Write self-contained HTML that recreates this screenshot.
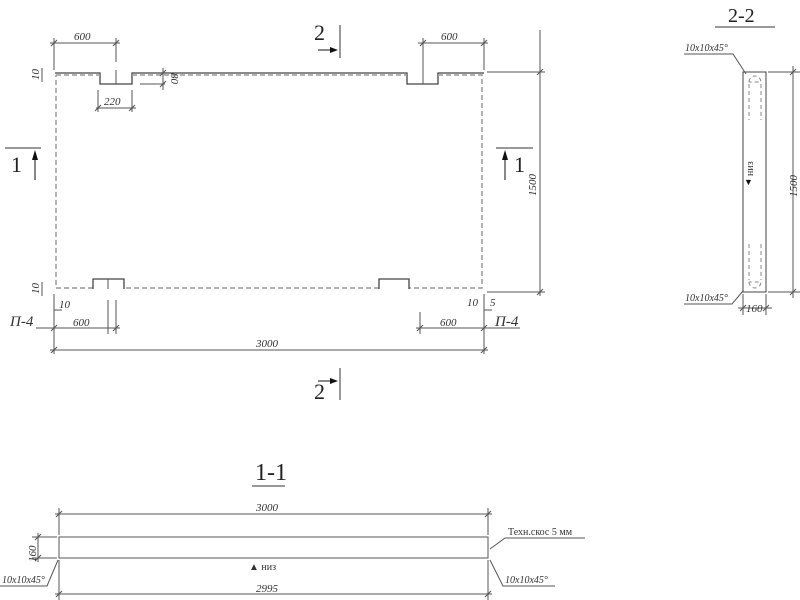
<!DOCTYPE html>
<html><head><meta charset="utf-8"><style>
html,body{margin:0;padding:0;background:#fff}
svg{display:block}
text{font-family:"Liberation Serif",serif;fill:#333}
.it{font-style:italic;font-size:11px}
.big{font-size:22px;fill:#222}
</style></head><body>
<svg width="800" height="600" viewBox="0 0 800 600" xmlns="http://www.w3.org/2000/svg">
<g stroke="#555" stroke-width="1" fill="none">
<!-- plan outline -->
<path d="M55,73 H100 V84 H132 V73 H407 V84 H438 V73 H484" stroke="#444" stroke-width="1.3"/>
<path d="M56,75 H100 M132,75 H407 M438,75 H482 V288 H409 M379,288 H124 M93,288 H56 V75" stroke="#999" stroke-width="1.5" stroke-dasharray="5,3"/>
<path d="M93,289 V279 H124 V289 M379,289 V279 H409 V289" stroke="#444" stroke-width="1.3"/>
<path d="M116,84 V70 M116,62 V38 M423,84 V38 M484,70 V38 M54,70 V38 M108,289 V279 M108,300 V334 M116,300 V334" />
<!-- top dims -->
<path d="M50,43 H120 M418,43 H488 M96,108 H136 M98,90 V112 M132,90 V112 M140,84 H165 M163,68 V90 M42,68 V82"/>
<path d="M487,72 H545 M487,292 H545 M540,30 V296"/>
<!-- bottom dims -->
<path d="M54,294 V354 M484,294 V354 M50,328 H120 M420,312 V334 M416,328 H488 M50,350 H488 M36,328 H54 M484,328 H520 M42,282 V296 M54,310 H62 M484,310 H492"/>
<!-- ticks -->
<path d="M51,46 L57,40 M113,46 L119,40 M420,46 L426,40 M481,46 L487,40 M95,111 L101,105 M129,111 L135,105 M160,76 L166,70 M160,87 L166,81 M537,75 L543,69 M537,295 L543,289 M51,331 L57,325 M113,331 L119,325 M417,331 L423,325 M481,331 L487,325 M51,353 L57,347 M481,353 L487,347"/>
<!-- section marks -->
<path d="M340,25 V58 M340,368 V400 M5,148 H41 M496,148 H533" stroke="#333"/>
<path d="M318,50 H332 M318,381 H332 M35,180 V160 M505,180 V160" stroke="#111"/>
<!-- 2-2 -->
<path d="M715,27 H775" stroke="#333"/>
<rect x="743" y="72" width="23" height="220" stroke="#444"/>
<path d="M749,82 a6,6 0 0 1 12,0 H749 M749,282 a6,6 0 0 0 12,0 H749 M749,84 V120 M761,84 V120 M749,244 V280 M761,244 V280" stroke="#888" stroke-dasharray="4,3"/>
<path d="M768,72 H800 M768,292 H800 M793,66 V298 M743,294 V315 M766,294 V315 M738,308 H772 M684,54 H733 L746,74 M684,304 H732 L743,291 M790,75 L796,69 M790,295 L796,289 M740,311 L746,305 M763,311 L769,305"/>
<!-- 1-1 -->
<path d="M252,486 H285" stroke="#333"/>
<rect x="59" y="537" width="429" height="21" stroke="#555"/>
<path d="M59,508 V535 M488,508 V535 M55,514 H492 M59,560 V600 M488,560 V600 M55,594 H492 M32,537 H57 M32,558 H57 M38,533 V562 M490,549 L505,538 H585 M0,586 H47 L58,560 M490,560 L503,586 H555 M56,517 L62,511 M485,517 L491,511 M56,597 L62,591 M485,597 L491,591 M35,540 L41,534 M35,561 L41,555"/>
</g>
<g fill="#111">
<polygon points="338,50 330,47 330,53"/>
<polygon points="338,381 330,378 330,384"/>
<polygon points="35,150 32,160 38,160"/>
<polygon points="505,150 502,160 508,160"/>
</g>
<!-- labels -->
<text class="it" x="74" y="40">600</text>
<text class="it" x="441" y="40">600</text>
<text class="it" x="104" y="105">220</text>
<text class="it" transform="translate(171,73) rotate(90)">80</text>
<text class="it" transform="translate(39,80) rotate(-90)">10</text>
<text class="it" transform="translate(39,294) rotate(-90)">10</text>
<text class="it" transform="translate(536,196) rotate(-90)">1500</text>
<text class="it" x="59" y="308">10</text>
<text class="it" x="467" y="306">10</text>
<text class="it" x="490" y="306">5</text>
<text class="it" x="73" y="326">600</text>
<text class="it" x="440" y="326">600</text>
<text class="it" x="256" y="347">3000</text>
<text class="it" x="10" y="326" style="font-size:15px">П-4</text>
<text class="it" x="495" y="326" style="font-size:15px">П-4</text>
<text class="big" x="314" y="40">2</text>
<text class="big" x="314" y="399">2</text>
<text class="big" x="11" y="172">1</text>
<text class="big" x="514" y="172">1</text>
<text class="big" x="728" y="22" style="font-size:20px">2-2</text>
<text class="it" x="685" y="51" style="font-size:10px">10x10x45°</text>
<text class="it" x="685" y="301" style="font-size:10px">10x10x45°</text>
<text class="it" transform="translate(797,197) rotate(-90)">1500</text>
<text class="it" x="746" y="312">160</text>
<text style="font-size:10px" transform="translate(753,176) rotate(-90)">низ</text>
<text x="744" y="185" style="font-size:9px;fill:#111">▼</text>
<text class="big" x="255" y="480" style="font-size:24px">1-1</text>
<text class="it" x="256" y="511">3000</text>
<text class="it" x="256" y="592">2995</text>
<text class="it" transform="translate(36,562) rotate(-90)">160</text>
<text x="508" y="535" style="font-size:10px">Техн.скос 5 мм</text>
<text class="it" x="2" y="583" style="font-size:10px">10x10x45°</text>
<text class="it" x="505" y="583" style="font-size:10px">10x10x45°</text>
<text x="249" y="570" style="font-size:10px">▲ низ</text>
</svg>
</body></html>
